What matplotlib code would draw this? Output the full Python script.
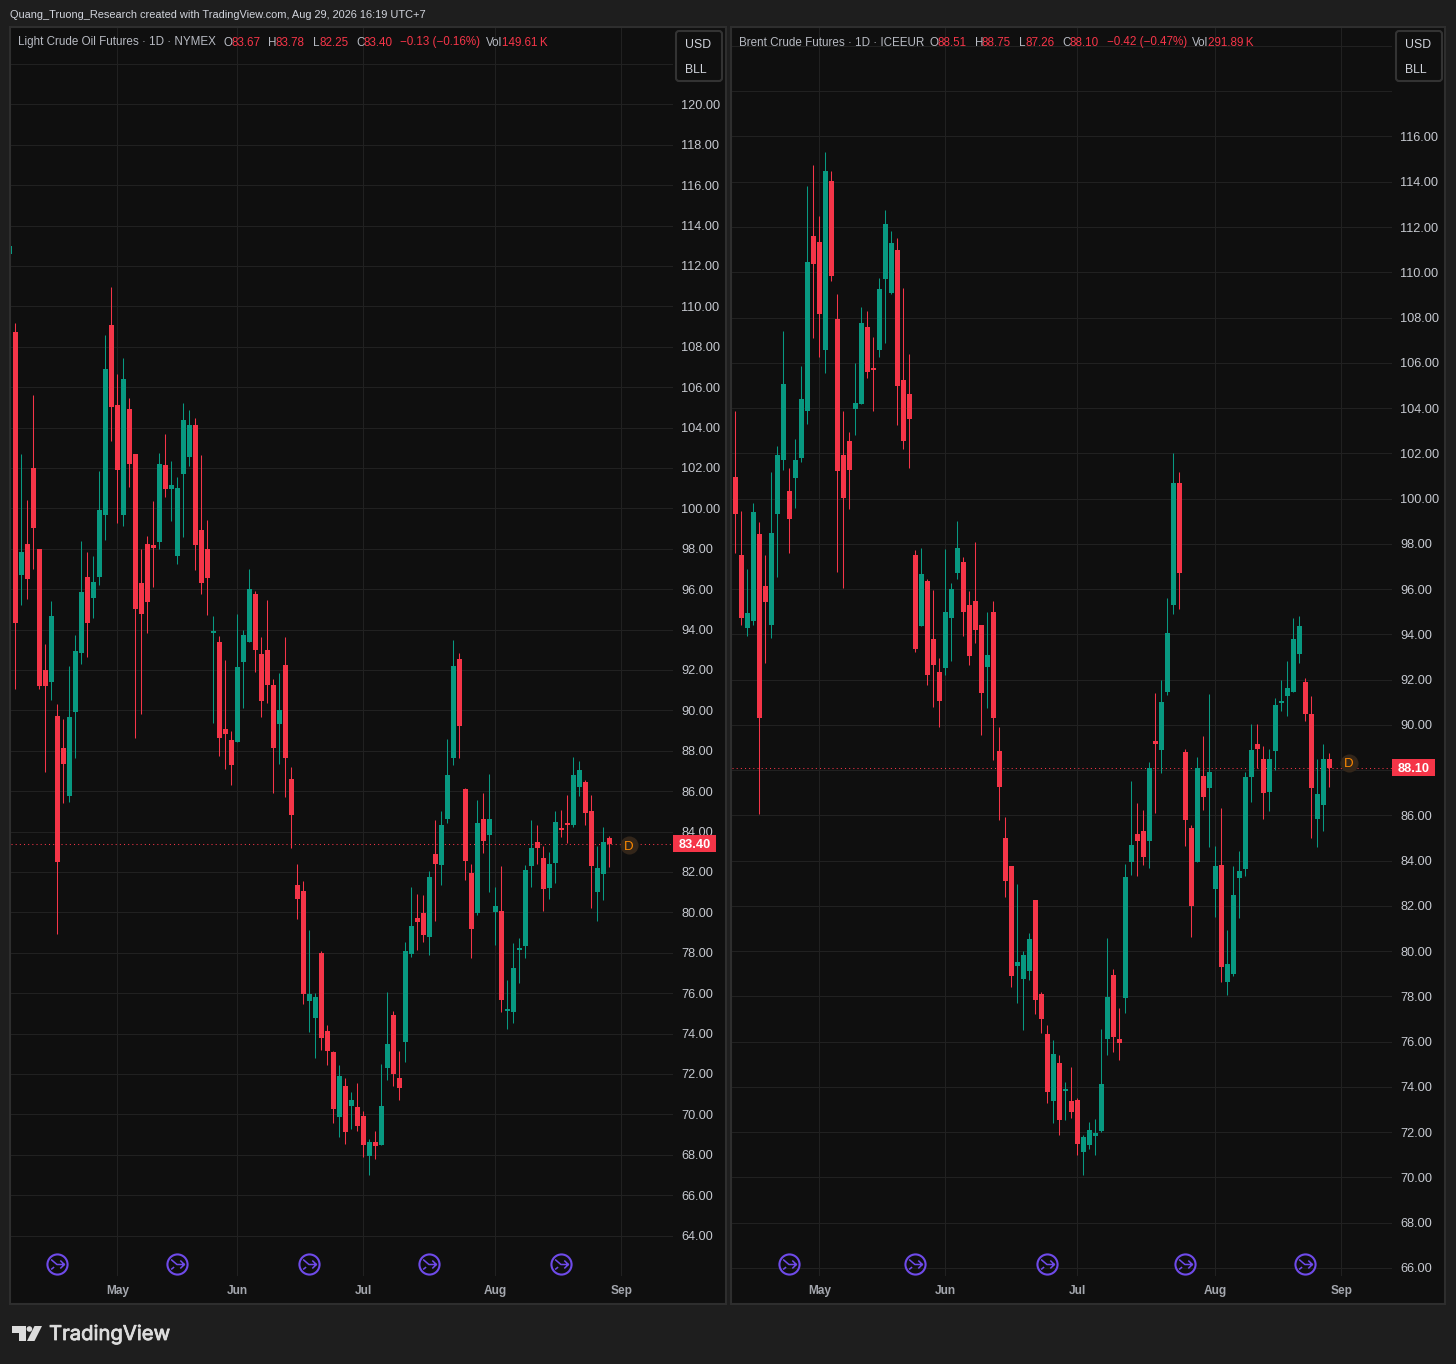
# -*- coding: utf-8 -*-
import matplotlib; matplotlib.use("Agg")
import matplotlib.pyplot as plt
import matplotlib.patheffects as pe
import numpy as np
from matplotlib.patches import Rectangle, FancyBboxPatch, Polygon, Circle
from matplotlib.path import Path

W, H = 1456, 1364

# ---- WTI candles, first one is cut off by the left edge of the pane
wti_open = [112.59,
    108.73,96.70,98.23,102.00,97.98,91.99,91.40,89.72,88.13,85.76,
    89.91,92.83,96.60,95.56,96.60,99.67,109.07,105.11,99.67,104.91,
    102.69,96.30,98.23,98.18,98.33,102.14,100.95,97.64,101.70,102.54,
    104.12,98.92,97.98,93.84,93.38,89.07,88.53,88.43,92.39,93.38,
    95.76,92.79,92.98,91.25,89.32,92.24,86.60,81.35,81.05,75.60,
    74.76,77.98,74.12,73.08,69.86,71.40,70.41,70.36,69.91,67.93,
    68.62,68.48,72.29,74.91,71.79,73.58,77.93,79.71,79.96,78.78,
    82.89,82.35,84.62,87.64,92.54,86.11,81.95,79.97,84.62,83.83,
    80.02,80.07,75.09,75.07,78.11,78.34,82.30,83.49,82.69,81.21,
    82.45,84.08,84.43,84.33,86.21,86.46,85.02,81.01,81.90,83.67]
wti_high = [112.99,
    109.15,102.69,100.41,105.61,97.98,93.28,95.41,90.31,89.57,92.19,
    93.73,98.38,97.83,97.64,101.84,108.58,110.95,106.65,107.44,105.46,
    102.69,97.98,98.63,100.36,102.74,103.68,102.34,101.55,105.21,104.86,
    104.47,102.64,99.42,94.67,93.68,92.49,88.97,94.77,93.97,96.99,
    95.91,93.63,95.46,91.55,91.85,93.63,87.19,82.39,81.55,79.12,
    76.00,78.08,74.42,73.13,72.44,71.79,71.10,71.55,70.16,68.77,
    69.17,72.49,76.05,75.11,73.13,78.53,81.25,80.90,80.85,82.05,
    84.57,85.02,88.58,93.48,92.84,86.16,82.40,85.56,85.91,86.85,
    81.26,82.30,76.65,78.48,78.73,82.35,84.57,84.33,83.29,82.99,
    85.02,85.07,85.81,87.69,87.49,86.55,85.81,83.29,84.23,83.78]
wti_low = [112.59,
    91.07,95.21,95.51,97.00,91.05,86.94,90.51,78.92,85.41,85.46,
    87.64,92.29,92.64,94.57,96.20,98.43,103.33,99.27,99.12,101.05,
    88.63,89.81,93.82,96.10,97.98,100.56,99.37,97.24,98.58,102.09,
    96.94,95.76,94.72,89.37,87.74,87.09,86.30,88.43,90.11,93.38,
    91.90,89.67,90.36,85.91,87.34,85.71,83.18,79.66,75.46,74.07,
    72.78,73.18,72.44,69.57,68.87,68.53,69.27,69.17,67.88,67.00,
    67.78,68.48,71.69,71.40,70.70,72.59,77.78,78.13,78.53,77.89,
    79.57,81.36,84.43,87.30,87.64,81.60,77.74,79.87,82.94,81.01,
    78.39,75.07,74.23,74.52,76.50,77.74,81.26,82.40,80.07,80.66,
    81.46,83.73,83.44,84.23,85.76,84.33,80.22,79.57,80.61,82.25]
wti_close = [112.99,
    94.32,97.83,96.50,99.02,91.20,91.20,94.67,82.49,87.34,89.67,
    92.93,95.85,94.32,96.35,99.91,106.89,105.01,101.89,106.40,102.19,
    95.01,94.77,95.36,98.03,102.19,100.95,101.15,101.00,104.37,104.12,
    98.18,96.30,96.55,93.87,88.63,88.83,87.29,92.14,93.73,96.00,
    92.98,90.46,91.25,88.13,90.01,87.64,84.82,80.65,75.95,75.95,
    75.80,73.77,73.13,70.26,71.89,69.12,70.70,69.42,68.48,68.62,
    68.43,70.41,73.48,71.99,71.30,78.08,79.32,79.52,78.87,81.75,
    82.40,84.33,86.80,92.20,89.23,82.54,79.18,84.43,83.53,84.62,
    80.32,75.66,75.17,77.25,78.14,82.10,83.19,83.19,81.16,82.40,
    84.48,84.05,84.33,86.80,87.05,84.92,82.30,82.20,83.49,83.40]

# ---- Brent candles
brent_open = [100.95,97.50,94.28,94.59,98.43,96.13,94.41,99.31,101.70,100.33,
    100.91,101.79,103.87,111.60,111.33,106.56,114.03,107.93,101.92,102.54,
    103.96,104.18,107.58,105.77,106.56,109.70,109.08,110.98,105.24,104.62,
    97.50,94.36,96.35,93.79,92.33,92.51,94.72,96.71,97.19,95.29,
    95.47,94.41,92.55,94.98,88.84,85.00,83.77,79.35,78.77,79.13,
    82.27,78.11,76.35,73.38,75.06,73.83,73.38,73.43,71.13,71.44,
    71.84,72.06,76.12,78.95,76.12,77.94,83.93,85.18,85.31,84.87,
    89.29,88.89,91.45,95.30,100.70,88.80,85.45,83.93,87.74,87.22,
    82.75,83.81,78.63,78.99,83.24,83.63,87.69,89.16,88.50,87.03,
    88.84,90.97,91.27,91.45,93.14,91.89,90.48,85.84,86.46,88.51]
brent_high = [103.87,99.45,96.88,99.80,98.96,97.50,101.17,102.32,107.40,101.35,
    102.63,105.85,113.81,114.74,112.48,115.31,114.47,109.04,103.87,102.92,
    105.99,108.46,108.28,107.14,109.74,112.75,111.82,111.51,109.30,106.39,
    97.72,97.81,96.44,95.96,92.95,97.77,96.27,99.00,97.41,95.91,
    98.08,94.41,94.98,95.47,89.90,85.93,83.77,82.97,80.01,80.81,
    82.27,78.20,76.74,76.08,75.42,74.22,74.89,73.52,71.88,72.46,
    72.59,76.57,80.59,79.22,77.49,83.86,87.52,86.55,86.24,88.35,
    91.42,91.98,95.61,102.02,101.17,88.94,85.58,88.58,89.51,91.37,
    84.64,86.33,80.94,83.76,84.42,87.91,90.04,90.04,89.06,88.94,
    91.19,91.98,92.82,94.73,94.81,92.08,91.27,88.50,89.16,88.75]
brent_low = [97.59,94.41,93.92,94.41,86.06,92.73,93.84,96.53,101.26,97.59,
    99.58,101.61,103.29,107.09,106.25,105.55,109.61,96.75,96.04,99.54,
    102.81,104.18,105.32,103.87,106.25,106.87,109.04,103.25,102.19,101.35,
    93.22,94.36,91.76,90.79,89.90,92.20,92.82,96.44,93.92,92.64,
    93.61,89.55,90.74,88.45,85.79,82.40,78.42,77.71,76.52,78.73,
    77.23,76.39,73.30,72.41,71.88,72.55,72.63,71.00,70.12,71.26,
    71.00,72.01,75.42,75.55,75.20,77.27,83.37,83.32,83.81,83.68,
    86.11,87.88,91.32,94.90,95.12,84.64,80.62,83.93,86.24,84.60,
    81.50,78.63,78.06,78.90,81.47,83.32,86.59,88.10,85.84,86.19,
    88.00,90.61,90.39,91.45,92.74,90.17,85.01,84.60,85.31,87.26]
brent_close = [99.31,94.72,94.94,99.40,90.30,95.43,98.47,101.92,105.06,99.09,
    101.70,104.40,110.45,110.36,108.15,114.47,109.83,101.22,100.02,101.26,
    104.22,107.75,105.59,105.68,109.26,112.13,111.29,104.97,102.54,103.51,
    93.35,96.66,92.20,92.64,91.05,94.98,96.00,97.81,94.98,93.04,
    94.19,91.41,93.08,90.30,87.25,83.10,78.91,79.53,79.84,80.54,
    77.85,77.01,73.78,75.46,72.55,73.87,72.90,71.48,71.79,72.10,
    71.97,74.14,77.98,76.21,75.95,83.28,84.69,84.87,84.16,88.10,
    89.16,91.00,94.07,100.70,96.72,85.80,82.00,88.10,86.81,87.91,
    83.76,79.29,79.44,82.48,83.54,87.69,88.89,88.94,87.00,88.50,
    90.88,91.00,91.64,93.80,94.37,90.48,87.22,86.95,88.50,88.10]

wti_ticks = [64 + 2*k for k in range(30)]       # 64 .. 122
wti_blank = [122]
brent_ticks = [66 + 2*k for k in range(28)]     # 66 .. 120
brent_blank = [88, 118, 120]                    # 88 sits behind the price tag

wti_months = [17, 37, 58, 80, 101]
brent_months = [14, 35, 57, 80, 101]
month_names = ["May", "Jun", "Jul", "Aug", "Sep"]

wti_events = [7, 27, 49, 69, 91]
brent_events = [9, 30, 52, 75, 95]

PAGE = "#1e1e1e"; PANE = "#0f0f0f"; EDGE = "#2e2e2e"; GRID = "#212121"
RED = "#f53548"; GREEN = "#089981"; TXT = "#b7bac2"; PURPLE = "#6f4bea"
FONT = "Liberation Sans"

plt.rcParams["font.family"] = [FONT, "DejaVu Sans"]

fig = plt.figure(figsize=(W/100, H/100), dpi=100, facecolor=PAGE)

# pixel-coordinate layers, one under the charts, one above
under = fig.add_axes([0, 0, 1, 1], zorder=0); under.set_xlim(0, W); under.set_ylim(H, 0); under.axis("off")
over = fig.add_axes([0, 0, 1, 1], zorder=10); over.set_xlim(0, W); over.set_ylim(H, 0); over.axis("off")
over.patch.set_alpha(0)

for x0, x1 in [(10, 726), (731, 1445)]:
    under.add_patch(Rectangle((x0, 27), x1-x0, 1277, fc=PANE, ec=EDGE, lw=1.5))


def icon_path():
    v = [(-6.4, 5), (-0.6, 0), (7, 0), (2.8, 4), (7, 0), (2.8, -4), (-6.4, -5), (-3.4, -2.6)]
    c = [Path.MOVETO, Path.LINETO, Path.LINETO, Path.MOVETO, Path.LINETO, Path.LINETO, Path.MOVETO, Path.LINETO]
    return Path(v, c)


def pane(px0, px1, x_at_zero, y_ref, p_ref, scale, o, h, l, c, first, ticks, blank, months, events, badge_dy):
    top, bot = 28, 1276
    ax = fig.add_axes([px0/W, 1-bot/H, (px1-px0)/W, (bot-top)/H], zorder=5)
    ax.patch.set_alpha(0)
    o, h, l, c = map(np.array, (o, h, l, c))
    xs = np.arange(len(o)) + first
    col = np.where(c >= o, GREEN, RED)

    ax.vlines(xs, l, h, colors=col, lw=0.75, zorder=3)
    ax.bar(xs, np.maximum(np.abs(c-o), 0.1), bottom=np.minimum(o, c), width=5/6, color=col,
           lw=0, zorder=4, antialiased=False)

    ax.set_xlim((px0-x_at_zero)/6, (px1-x_at_zero)/6)
    ax.set_ylim(p_ref-(bot-y_ref)/scale, p_ref-(top-y_ref)/scale)

    ax.set_yticks(ticks)
    ax.set_yticklabels(["" if v in blank else f"{v:.2f}" for v in ticks])
    ax.yaxis.tick_right()
    ax.set_xticks(months); ax.set_xticklabels(month_names)
    ax.tick_params(axis="y", length=0, pad=5.8, labelsize=9.2, labelcolor="#c6c9d0")
    ax.tick_params(axis="x", length=0, pad=6.5, labelsize=8.6, labelcolor="#a4a7ae")
    for t in ax.get_xticklabels():
        t.set_fontweight("bold")
    ax.grid(True, color=GRID, lw=0.75, zorder=0); ax.set_axisbelow(True)
    for s in ax.spines.values():
        s.set_visible(False)

    # last price line, tag and session badge
    last = c[-1]
    ax.axhline(last, color=RED, lw=0.75, ls=(0, (1, 3)), zorder=2)
    tr = ax.get_yaxis_transform()
    span = px1-px0
    ax.add_patch(Rectangle((1, last-8.5/scale), 43/span, 17/scale, transform=tr, fc=RED, ec="none",
                           clip_on=False, zorder=6))
    ax.text(1+21.5/span, last, f"{last:.2f}", transform=tr, color="white", fontsize=9.2, fontweight="bold",
            ha="center", va="center_baseline", zorder=7)
    bx = 102.3
    ax.scatter([bx], [last+badge_dy], s=170, color="#33261a", lw=0, zorder=5)
    ax.text(bx, last+badge_dy, "D", color="#ff8a00", fontsize=9.5, ha="center", va="center_baseline", zorder=6)

    # purple event markers along the bottom
    ev_y = [12.5/(bot-top)]*len(events)
    ax.plot(events, ev_y, ls="none", marker="o", ms=14.5, mfc="none", mec=PURPLE, mew=1.5,
            transform=ax.get_xaxis_transform(), zorder=6)
    ln, = ax.plot(events, ev_y, ls="none", marker=icon_path(), ms=10, mfc="none", mec=PURPLE, mew=1.1,
                  transform=ax.get_xaxis_transform(), zorder=6)
    ln.set_snap(False)
    return ax


pane(11, 673, 15.3, 508.3, 100, 20.2, wti_open, wti_high, wti_low, wti_close, -1,
     wti_ticks, wti_blank, wti_months, wti_events, -0.08)
pane(732, 1392, 735.3, 453.3, 102, 22.63, brent_open, brent_high, brent_low, brent_close, 0,
     brent_ticks, brent_blank, brent_months, brent_events, 0.22)


def label(x, y, s, color=TXT, size=8.4, **kw):
    over.text(x, y, s, color=color, fontsize=size, ha=kw.pop("ha", "left"), va="center", **kw)


label(10, 15.5, "Quang_Truong_Research created with TradingView.com, Aug 29, 2026 16:19 UTC+7",
      color="#d1d4dc", size=7.9)

label(18, 42.5, "Light Crude Oil Futures \u00b7 1D \u00b7 NYMEX")
for x, s, c in [(223, "O", TXT), (232, "83.67", RED), (268, "H", TXT), (276, "83.78", RED),
                (312.5, "L", TXT), (319, "82.25", RED), (356, "C", TXT), (363, "83.40", RED),
                (400, "\u22120.13 (\u22120.16%)", RED), (486, "Vol", TXT), (502, "149.61\u2009K", RED)]:
    label(x, 42.5, s, color=c)

label(739, 42.5, "Brent Crude Futures \u00b7 1D \u00b7 ICEEUR")
for x, s, c in [(930, "O", TXT), (938, "88.51", RED), (975, "H", TXT), (982, "88.75", RED),
                (1019, "L", TXT), (1026, "87.26", RED), (1062, "C", TXT), (1070, "88.10", RED),
                (1107, "\u22120.42 (\u22120.47%)", RED), (1192, "Vol", TXT), (1208, "291.89\u2009K", RED)]:
    label(x, 42.5, s, color=c)

for x0 in (676, 1396):
    over.add_patch(FancyBboxPatch((x0+3, 34), 40, 44, boxstyle="round,pad=3", fc=PANE, ec="#333333", lw=1.5))
    label(x0+9, 44.5, "USD", color="#d1d4dc", size=8.8)
    label(x0+9, 70, "BLL", color="#d1d4dc", size=8.8)

# logo
LOGO = "#dcdcdc"
over.add_patch(Polygon([(12, 1326), (26, 1326), (26, 1341), (19, 1341), (19, 1333), (12, 1333)], fc=LOGO, ec="none"))
over.add_patch(Circle((29.4, 1329), 2.8, fc=LOGO, ec="none"))
over.add_patch(Polygon([(42, 1326), (34.5, 1341), (27, 1341), (34.5, 1326)], fc=LOGO, ec="none"))
over.text(49, 1335, "TradingView", color=LOGO, fontsize=14.6, family="Inter", ha="left", va="center",
          path_effects=[pe.withStroke(linewidth=0.6, foreground=LOGO)])

fig.savefig("out.png", dpi=100, facecolor=PAGE)
print("ok")
